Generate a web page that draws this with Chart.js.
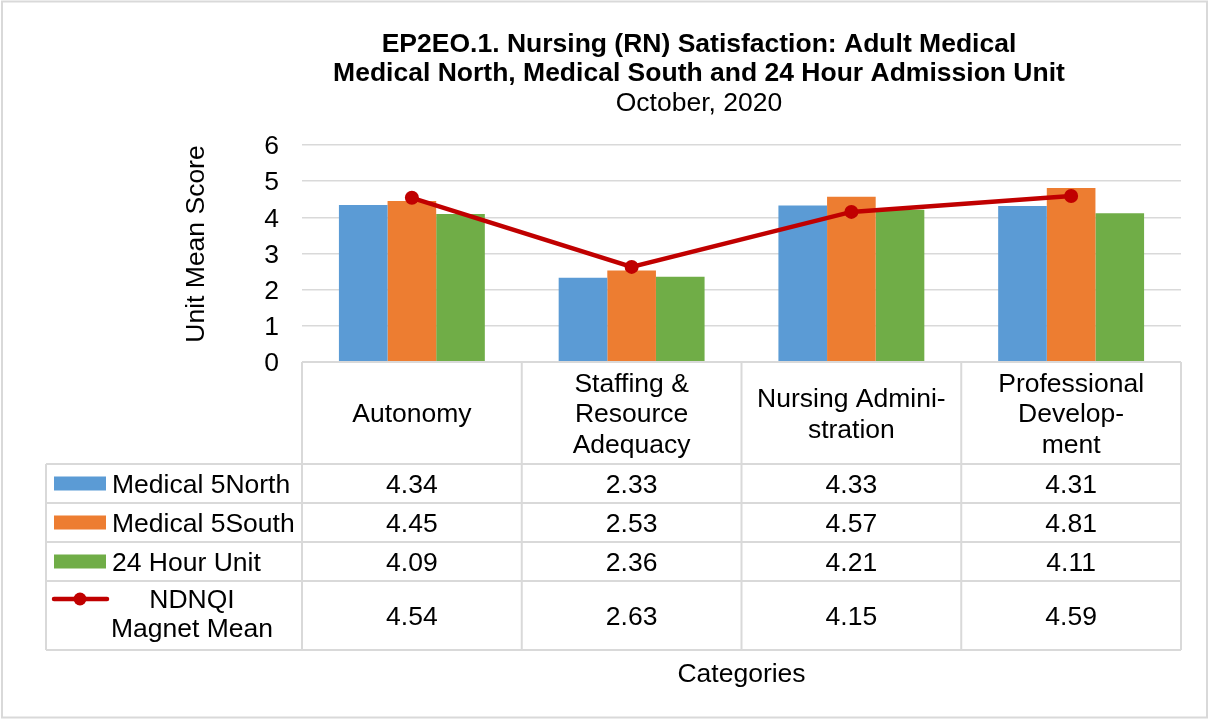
<!DOCTYPE html>
<html>
<head>
<meta charset="utf-8">
<title>EP2EO.1. Nursing (RN) Satisfaction</title>
<script src="https://cdn.jsdelivr.net/npm/chart.js@4.4.1/dist/chart.umd.min.js"></script>
<style>
  html, body { margin: 0; padding: 0; background: #fff; }
  #chart { display: block; }
</style>
</head>
<body>
<canvas id="chart" width="1209" height="719"></canvas>
<script>
// data
const categories = [['Autonomy'], ['Staffing &', 'Resource', 'Adequacy'], ['Nursing Admini-', 'stration'], ['Professional', 'Develop-', 'ment']];
const seriesNames = [['Medical 5North'], ['Medical 5South'], ['24 Hour Unit'], ['NDNQI', 'Magnet Mean']];
const north = [4.34, 2.33, 4.33, 4.31];
const south = [4.45, 2.53, 4.57, 4.81];
const unit24 = [4.09, 2.36, 4.21, 4.11];
const ndnqi = [4.54, 2.63, 4.15, 4.59];
const yTicks = [0, 1, 2, 3, 4, 5, 6];
const titleLines = ['EP2EO.1. Nursing (RN) Satisfaction: Adult Medical', 'Medical North, Medical South and 24 Hour Admission Unit'];
const subtitle = 'October, 2020';
const yTitle = 'Unit Mean Score';
const xTitle = 'Categories';

const colors = ['#5B9BD5', '#ED7D31', '#70AD47', '#C00000'];
const FONT = '"Liberation Sans", Arial, sans-serif';
const SIZE = 26.5;
const LINE_COLOR = '#D9D9D9';
const TY = 2; // small downward nudge for middle-baseline text

const tablePlugin = {
    id: 'dataTable',
    afterDraw(chart) {
        const ctx = chart.ctx;
        const xs = chart.scales.x;
        const area = chart.chartArea;
        const colW = xs.width / categories.length;
        const headerBottom = 464;
        const rowH = [39, 39, 39, 69];
        const tableLeft = 46;
        const values = [north, south, unit24, ndnqi];

        let rowTops = [headerBottom];
        rowH.forEach((h, i) => rowTops.push(rowTops[i] + h));
        const tableBottom = rowTops[rowTops.length - 1];

        ctx.save();
        // outer chart border
        ctx.strokeStyle = LINE_COLOR;
        ctx.lineWidth = 2;
        ctx.strokeRect(2, 1.5, 1205, 716);

        // table lines
        ctx.beginPath();
        ctx.moveTo(xs.left, area.bottom);
        ctx.lineTo(xs.right, area.bottom);
        rowTops.forEach(y => {
            ctx.moveTo(tableLeft, y);
            ctx.lineTo(xs.right, y);
        });
        for (let i = 0; i <= categories.length; i++) {
            const lx = xs.left + i * colW;
            ctx.moveTo(lx, area.bottom);
            ctx.lineTo(lx, tableBottom);
        }
        ctx.moveTo(tableLeft, headerBottom);
        ctx.lineTo(tableLeft, tableBottom);
        ctx.stroke();

        ctx.fillStyle = '#000';
        ctx.font = SIZE + 'px ' + FONT;
        ctx.textBaseline = 'middle';
        ctx.textAlign = 'center';

        // category header cells
        const headMid = (area.bottom + headerBottom) / 2 + TY;
        categories.forEach((lines, i) => {
            const cx = xs.getPixelForValue(i);
            const start = headMid - (lines.length - 1) * 30.5 / 2;
            lines.forEach((t, j) => ctx.fillText(t, cx, start + j * 30.5));
        });

        // value cells
        values.forEach((vals, r) => {
            const cy = (rowTops[r] + rowTops[r + 1]) / 2 + TY;
            vals.forEach((v, i) => ctx.fillText(v.toFixed(2), xs.getPixelForValue(i), cy));
        });

        // legend column
        seriesNames.forEach((lines, r) => {
            const cy = (rowTops[r] + rowTops[r + 1]) / 2;
            if (r < 3) {
                ctx.fillStyle = colors[r];
                ctx.fillRect(tableLeft + 8, cy - 7, 52, 14);
                ctx.fillStyle = '#000';
                ctx.textAlign = 'left';
                ctx.fillText(lines[0], 112, cy + TY);
            } else {
                const ly = rowTops[r] + 18;
                ctx.strokeStyle = colors[3];
                ctx.lineWidth = 4.5;
                ctx.lineCap = 'round';
                ctx.beginPath();
                ctx.moveTo(tableLeft + 8, ly);
                ctx.lineTo(tableLeft + 61, ly);
                ctx.stroke();
                ctx.fillStyle = colors[3];
                ctx.beginPath();
                ctx.arc(tableLeft + 34, ly, 6.5, 0, Math.PI * 2);
                ctx.fill();
                ctx.fillStyle = '#000';
                ctx.textAlign = 'center';
                ctx.fillText(lines[0], 192, ly + TY);
                ctx.fillText(lines[1], 192, ly + 29 + TY);
            }
        });

        // titles
        ctx.textAlign = 'center';
        ctx.font = 'bold ' + SIZE + 'px ' + FONT;
        ctx.fillText(titleLines[0], 699, 43 + TY);
        ctx.fillText(titleLines[1], 699, 72 + TY);
        ctx.font = SIZE + 'px ' + FONT;
        ctx.fillText(subtitle, 699, 102 + TY);
        ctx.fillText(xTitle, (xs.left + xs.right) / 2, 673 + TY);

        ctx.translate(197, 244);
        ctx.rotate(-Math.PI / 2);
        ctx.fillText(yTitle, 0, 0);
        ctx.restore();
    }
};

const ctx = document.getElementById('chart').getContext('2d');
const chart = new Chart(ctx, {
    type: 'bar',
    data: {
        labels: categories,
        datasets: [
            { label: seriesNames[0].join(' '), data: north, backgroundColor: colors[0], order: 1 },
            { label: seriesNames[1].join(' '), data: south, backgroundColor: colors[1], order: 1 },
            { label: seriesNames[2].join(' '), data: unit24, backgroundColor: colors[2], order: 1 },
            {
                type: 'line',
                label: seriesNames[3].join(' '),
                data: ndnqi,
                borderColor: colors[3],
                backgroundColor: colors[3],
                borderWidth: 4.5,
                pointRadius: 7,
                pointBorderWidth: 0,
                pointBackgroundColor: colors[3],
                tension: 0,
                order: 0
            }
        ]
    },
    options: {
        responsive: false,
        animation: false,
        devicePixelRatio: 1,
        datasets: {
            bar: { categoryPercentage: 0.664, barPercentage: 1.0, borderWidth: 0 }
        },
        layout: { padding: { left: 0, top: 145, right: 28, bottom: 357 } },
        plugins: {
            legend: { display: false },
            tooltip: { enabled: false },
            title: { display: false }
        },
        scales: {
            x: {
                display: false,
                grid: { display: false }
            },
            y: {
                min: 0,
                max: 6,
                afterFit: scale => { scale.width = 302; },
                afterBuildTicks: scale => { scale.ticks = yTicks.map(v => ({ value: v })); },
                border: { display: false },
                grid: { color: LINE_COLOR, lineWidth: 1.5, drawTicks: false },
                ticks: {
                    padding: 23,
                    labelOffset: TY,
                    color: '#000',
                    font: { family: FONT, size: SIZE }
                }
            }
        }
    },
    plugins: [tablePlugin]
});
</script>
</body>
</html>
